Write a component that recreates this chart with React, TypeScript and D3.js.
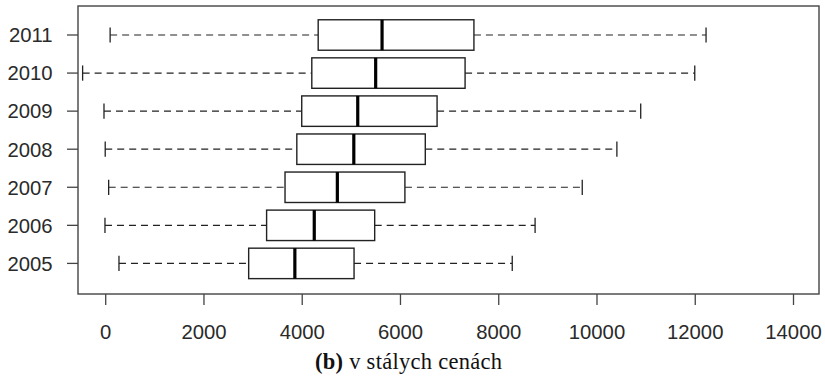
import React from "react";
import * as d3 from "d3";

// Annual distributions (constant prices): whisker ends, quartiles and medians
const years = ["2005", "2006", "2007", "2008", "2009", "2010", "2011"];
const lowerWhisker = [270, -15, 60, -10, -35, -470, 90];
const q1 = [2910, 3275, 3650, 3890, 3990, 4195, 4325];
const median = [3850, 4245, 4715, 5050, 5130, 5495, 5625];
const q3 = [5055, 5475, 6090, 6505, 6745, 7315, 7495];
const upperWhisker = [8275, 8740, 9700, 10405, 10890, 11990, 12220];
const xTicks = [0, 2000, 4000, 6000, 8000, 10000, 12000, 14000];

const W = 825;
const H = 381;
const plot = { left: 78, right: 819, top: 6, bottom: 294 };

export default function App() {
  const x = d3.scaleLinear().domain([-564, 14519]).range([plot.left, plot.right]);
  const y = d3
    .scaleLinear()
    .domain([0, years.length - 1])
    .range([263.4, 35]);
  const step = Math.abs(y(1) - y(0));
  const half = step * 0.4;
  const staple = step * 0.2;

  const lineColor = "#222";
  const axisColor = "#444";
  const textColor = "#2a2a2a";
  const sans = "'Liberation Sans', Arial, sans-serif";

  return (
    <div style={{ position: "absolute", left: 0, top: 0 }}>
      <svg width={W} height={H} viewBox={`0 0 ${W} ${H}`} style={{ display: "block", background: "#fff" }}>
        {/* boxes */}
        {years.map((yr, i) => {
          const cy = y(i);
          return (
            <g key={yr}>
              <line x1={x(lowerWhisker[i])} x2={x(q1[i])} y1={cy} y2={cy} stroke={lineColor} strokeWidth={1.2} strokeDasharray="7,5" />
              <line x1={x(q3[i])} x2={x(upperWhisker[i])} y1={cy} y2={cy} stroke={lineColor} strokeWidth={1.2} strokeDasharray="7,5" />
              <line x1={x(lowerWhisker[i])} x2={x(lowerWhisker[i])} y1={cy - staple} y2={cy + staple} stroke={lineColor} strokeWidth={1.3} />
              <line x1={x(upperWhisker[i])} x2={x(upperWhisker[i])} y1={cy - staple} y2={cy + staple} stroke={lineColor} strokeWidth={1.3} />
              <rect x={x(q1[i])} y={cy - half} width={x(q3[i]) - x(q1[i])} height={half * 2} fill="#fff" stroke={lineColor} strokeWidth={1.4} />
              <line x1={x(median[i])} x2={x(median[i])} y1={cy - half} y2={cy + half} stroke="#000" strokeWidth={3.2} />
            </g>
          );
        })}

        {/* frame */}
        <rect x={plot.left} y={plot.top} width={plot.right - plot.left} height={plot.bottom - plot.top} fill="none" stroke={axisColor} strokeWidth={1.4} />

        {/* y axis */}
        {years.map((yr, i) => (
          <g key={"y" + yr}>
            <line x1={plot.left - 11} x2={plot.left} y1={y(i)} y2={y(i)} stroke={axisColor} strokeWidth={1.3} />
            <text x={52.5} y={y(i)} dy="0.36em" textAnchor="end" fontFamily={sans} fontSize={20.3} fill={textColor}>
              {yr}
            </text>
          </g>
        ))}

        {/* x axis */}
        {xTicks.map((t) => (
          <g key={"x" + t}>
            <line x1={x(t)} x2={x(t)} y1={plot.bottom} y2={plot.bottom + 11} stroke={axisColor} strokeWidth={1.3} />
            <text x={x(t)} y={338.5} textAnchor="middle" fontFamily={sans} fontSize={20.3} fill={textColor}>
              {t}
            </text>
          </g>
        ))}

        {/* caption */}
        <text
          x={315}
          y={369}
          fontFamily="'Liberation Serif', 'DejaVu Serif', serif"
          fontSize={22.5}
          fill="#111"
          textLength={187}
          lengthAdjust="spacing"
        >
          <tspan fontWeight="bold">(b)</tspan>
          <tspan> v stálych cenách</tspan>
        </text>
      </svg>
    </div>
  );
}
